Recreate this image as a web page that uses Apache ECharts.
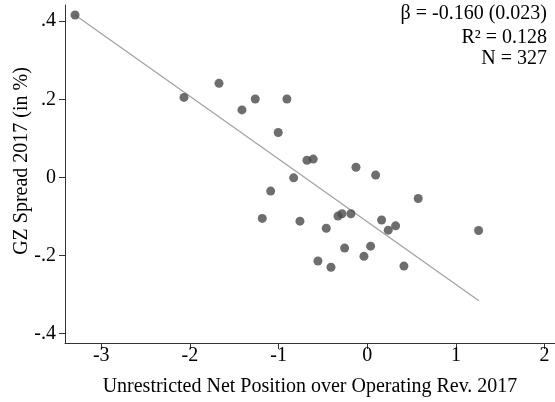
<!DOCTYPE html>
<html>
<head>
<meta charset="utf-8">
<script src="https://cdn.jsdelivr.net/npm/echarts@6/dist/echarts.min.js"></script>
<style>
html,body{margin:0;padding:0;background:#fff;}
#chart{width:555px;height:402px;}
</style>
</head>
<body>
<div id="chart"></div>
<script>
// Data
const netPosition = [-3.296, -2.067, -1.672, -1.413, -1.263, -0.906, -1.004, -0.680, -0.609, -0.127,
  0.095, -0.830, -1.089, 0.575, -1.184, -0.759, -0.330, -0.285, -0.184, -0.462,
  0.162, 0.237, 0.320, 1.256, -0.255, 0.038, -0.037, -0.556, -0.409, 0.414];
const gzSpread = [0.416, 0.205, 0.241, 0.173, 0.201, 0.201, 0.115, 0.044, 0.047, 0.026,
  0.006, -0.001, -0.035, -0.054, -0.105, -0.112, -0.099, -0.093, -0.093, -0.130,
  -0.109, -0.135, -0.124, -0.136, -0.181, -0.176, -0.202, -0.214, -0.230, -0.227];
const fitX = [-3.296, 1.260];
const fitY = [0.416, -0.316];
const xTicks = [-3, -2, -1, 0, 1, 2];
const yTicks = [-0.4, -0.2, 0, 0.2, 0.4];
const statLines = ['β = -0.160 (0.023)', 'R² = 0.128', 'N = 327'];
const xTitle = 'Unrestricted Net Position over Operating Rev. 2017';
const yTitle = 'GZ Spread 2017 (in %)';

const FONT = '"Liberation Serif", "Times New Roman", serif';
const chart = echarts.init(document.getElementById('chart'), null, {renderer: 'canvas'});

const fmtY = v => {
  if (Math.abs(v) < 1e-9) return '0';
  let s = v.toFixed(1);
  return s.replace('0.', '.');
};

const statY = [13.8, 37.8, 58.5];

chart.setOption({
  animation: false,
  backgroundColor: '#fff',
  grid: {left: 65, right: 0, top: 5, bottom: 58.3, containLabel: false},
  xAxis: {
    type: 'value', min: -3.409, max: 2.118,
    splitLine: {show: false},
    axisLine: {show: true, onZero: false, lineStyle: {color: '#333', width: 1}},
    axisTick: {show: true, length: 6, customValues: xTicks, lineStyle: {color: '#333'}},
    axisLabel: {customValues: xTicks, margin: 3, color: '#000', fontFamily: FONT, fontSize: 20,
      formatter: v => String(Math.round(v))},
    name: xTitle, nameLocation: 'middle', nameGap: 34,
    nameTextStyle: {fontFamily: FONT, fontSize: 20, color: '#000'}
  },
  yAxis: {
    type: 'value', min: -0.424, max: 0.4416,
    splitLine: {show: false},
    axisLine: {show: true, onZero: false, lineStyle: {color: '#333', width: 1}},
    axisTick: {show: true, length: 6, customValues: yTicks, lineStyle: {color: '#333'}},
    axisLabel: {customValues: yTicks, margin: 9, color: '#000', fontFamily: FONT, fontSize: 20,
      formatter: fmtY}
  },
  graphic: [
    {type: 'text', x: 22, y: 161, rotation: Math.PI / 2,
      style: {text: yTitle, font: '20px ' + FONT, fill: '#000', align: 'center', verticalAlign: 'middle'}},
    ...statLines.map((t, i) => ({type: 'text', x: 547, y: statY[i],
      style: {text: t, font: '20px ' + FONT, fill: '#000', align: 'right', verticalAlign: 'middle'}}))
  ],
  series: [
    {
      type: 'line', data: fitX.map((x, i) => [x, fitY[i]]), symbol: 'none', z: 1,
      lineStyle: {color: '#a3a3a3', width: 1.3}, silent: true
    },
    {
      type: 'scatter', data: netPosition.map((x, i) => [x, gzSpread[i]]), z: 2,
      symbol: 'circle', symbolSize: 9, itemStyle: {color: '#4a4a4a'}
    }
  ]
});
</script>
</body>
</html>
